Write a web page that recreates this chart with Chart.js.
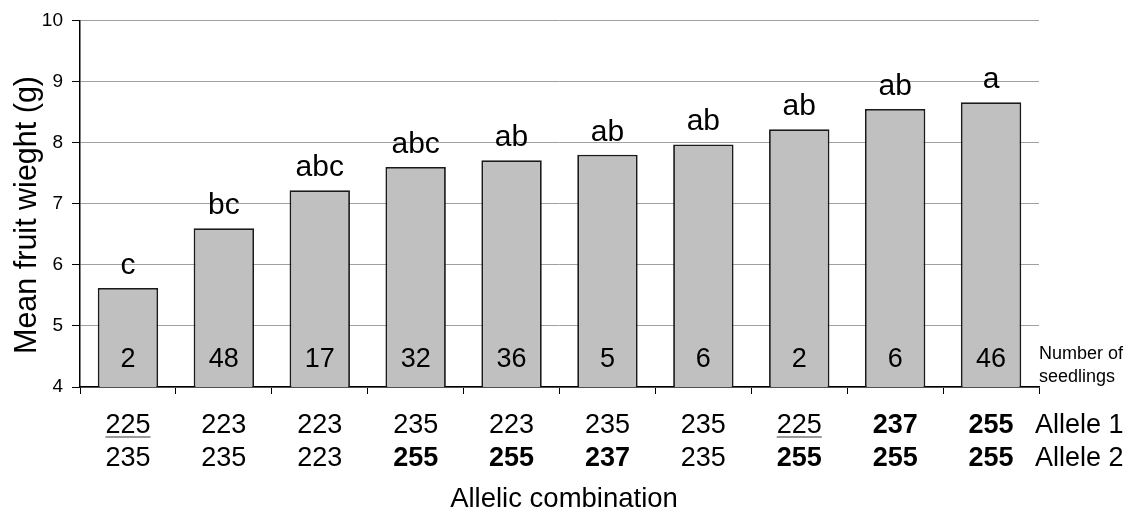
<!DOCTYPE html>
<html>
<head>
<meta charset="utf-8">
<script src="https://cdn.jsdelivr.net/npm/chart.js@4/dist/chart.umd.min.js"></script>
<style>
  html, body { margin: 0; padding: 0; background: #fff; }
  #wrap { width: 1129px; height: 512px; }
</style>
</head>
<body>
<div id="wrap"><canvas id="fruitChart" width="1129" height="512"></canvas></div>
<script>
// data
const meanWeight = [5.62, 6.6, 7.22, 7.6, 7.71, 7.8, 7.97, 8.22, 8.55, 8.66];
const sigLetters = ['c', 'bc', 'abc', 'abc', 'ab', 'ab', 'ab', 'ab', 'ab', 'a'];
const seedlings = [2, 48, 17, 32, 36, 5, 6, 2, 6, 46];
const allele1 = [225, 223, 223, 235, 223, 235, 235, 225, 237, 255];
const allele2 = [235, 235, 223, 255, 255, 237, 235, 255, 255, 255];
const yTicks = [4, 5, 6, 7, 8, 9, 10];
const boldAlleles = [237, 255];
const underlinedAlleles = [225];

const FONT = '"Liberation Sans", Arial, sans-serif';

const labelsPlugin = {
    id: 'labelsPlugin',
    afterDraw(chart) {
        const ctx = chart.ctx;
        const area = chart.chartArea;
        const xScale = chart.scales.x;
        const bars = chart.getDatasetMeta(0).data;
        ctx.save();
        ctx.fillStyle = '#000';

        // y axis title
        ctx.save();
        ctx.translate(28, 215);
        ctx.rotate(-Math.PI / 2);
        ctx.font = '30.5px ' + FONT;
        ctx.textAlign = 'center';
        ctx.textBaseline = 'middle';
        ctx.fillText('Mean fruit wieght (g)', 0, 0);
        ctx.restore();

        // letters above bars and counts inside them
        ctx.textAlign = 'center';
        ctx.textBaseline = 'alphabetic';
        bars.forEach(function(bar, i) {
            ctx.font = '30px ' + FONT;
            ctx.fillText(sigLetters[i], bar.x, bar.y - 14);
            ctx.font = '27px ' + FONT;
            ctx.fillText(String(seedlings[i]), bar.x, area.bottom - 20);
        });

        // allele rows under the axis
        const rows = [[allele1, 433], [allele2, 466]];
        rows.forEach(function(row) {
            row[0].forEach(function(val, i) {
                const x = xScale.getPixelForValue(i);
                const bold = boldAlleles.includes(val);
                ctx.font = (bold ? 'bold ' : '') + '27px ' + FONT;
                ctx.fillText(String(val), x, row[1]);
                if (underlinedAlleles.includes(val)) {
                    const w = ctx.measureText(String(val)).width;
                    ctx.strokeStyle = '#777';
                    ctx.lineWidth = 1.5;
                    ctx.beginPath();
                    ctx.moveTo(x - w / 2, row[1] + 4);
                    ctx.lineTo(x + w / 2, row[1] + 4);
                    ctx.stroke();
                }
            });
        });

        ctx.textAlign = 'left';
        ctx.font = '27px ' + FONT;
        ctx.fillText('Allele 1', 1035, 433);
        ctx.fillText('Allele 2', 1035, 466);

        ctx.font = '18px ' + FONT;
        ctx.fillText('Number of', 1039, 359);
        ctx.fillText('seedlings', 1039, 382);

        ctx.textAlign = 'center';
        ctx.font = '27.5px ' + FONT;
        ctx.fillText('Allelic combination', 564, 507);
        ctx.restore();
    }
};

const ctxFruit = document.getElementById('fruitChart').getContext('2d');

new Chart(ctxFruit, {
    type: 'bar',
    data: {
        labels: allele1.map(function(a, i) { return a + '/' + allele2[i]; }),
        datasets: [{
            data: meanWeight,
            backgroundColor: '#c0c0c0',
            borderColor: '#1a1a1a',
            borderWidth: 1.8,
            categoryPercentage: 1,
            barPercentage: 0.63,
        }]
    },
    options: {
        responsive: false,
        animation: false,
        layout: {
            padding: { top: 20, right: 90, left: 0, bottom: 0 }
        },
        scales: {
            x: {
                grid: {
                    display: true,
                    drawOnChartArea: false,
                    offset: true,
                    tickLength: 7,
                    tickColor: '#000',
                    color: '#000',
                },
                border: { color: '#000', width: 1.5 },
                ticks: { display: false },
                afterFit(scale) { scale.height = 125; },
            },
            y: {
                min: 4,
                max: 10,
                afterBuildTicks(scale) {
                    scale.ticks = yTicks.map(function(v) { return { value: v }; });
                },
                grid: {
                    color: '#a0a0a0',
                    lineWidth: 1,
                    tickColor: '#000',
                    tickLength: 8,
                },
                border: { color: '#000', width: 1.5 },
                ticks: {
                    color: '#000',
                    padding: 9,
                    font: { family: FONT, size: 19 },
                },
                afterFit(scale) { scale.width = 80; },
            }
        },
        plugins: {
            legend: { display: false },
            tooltip: { enabled: false },
        },
    },
    plugins: [labelsPlugin],
});
</script>
</body>
</html>
